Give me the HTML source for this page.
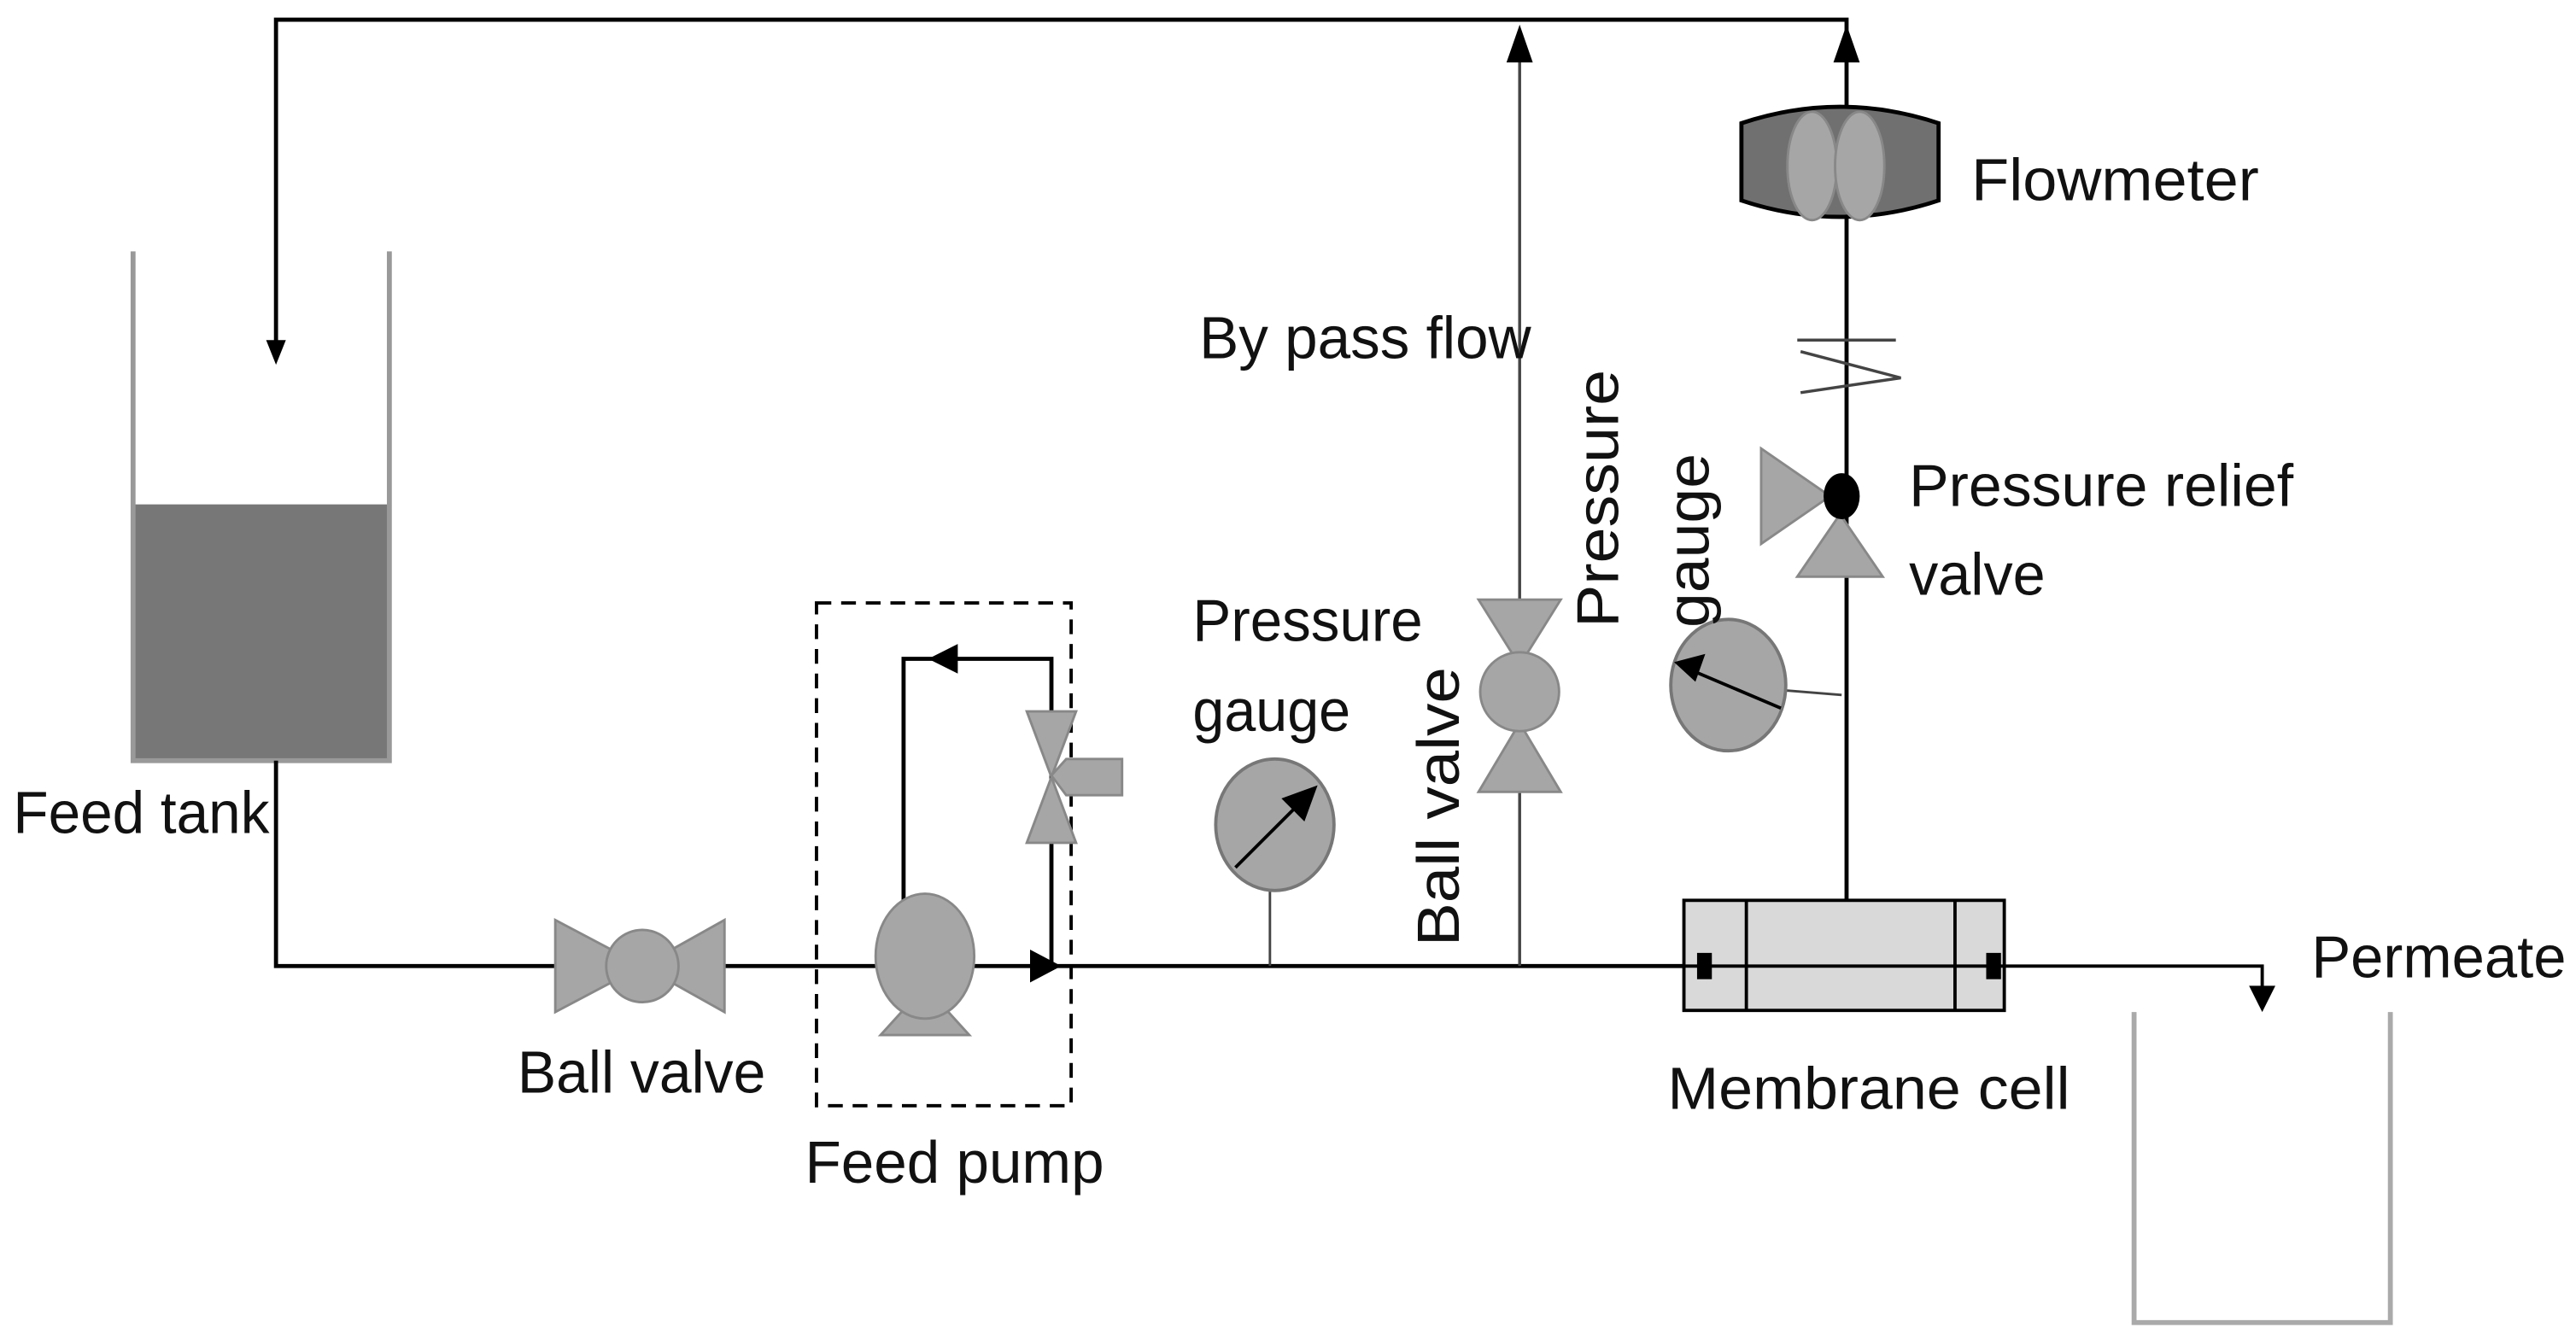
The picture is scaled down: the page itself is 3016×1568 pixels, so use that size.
<!DOCTYPE html>
<html><head><meta charset="utf-8"><style>html,body{margin:0;padding:0;background:#fff}svg{display:block}text{font-family:"Liberation Sans",sans-serif;font-size:36px;fill:#111}</style></head>
<body>
<svg width="3016" height="1568" viewBox="0 0 1568 815" preserveAspectRatio="none" xmlns="http://www.w3.org/2000/svg">
<rect width="1568" height="815" fill="#fff"/>
<!-- feed tank -->
<rect x="80" y="307" width="157" height="156" fill="#777"/>
<path d="M81,153 V463 H237 V153" fill="none" stroke="#999" stroke-width="3"/>
<!-- top return -->
<path d="M168,212 V12 H1124 V548" fill="none" stroke="#000" stroke-width="2.5"/>
<polygon points="162,207 174,207 168,222" fill="#000"/>
<!-- feed line -->
<path d="M168,463 V588 H1025" fill="none" stroke="#000" stroke-width="2.5"/>
<!-- bypass -->
<line x1="925" y1="588" x2="925" y2="20" stroke="#444" stroke-width="1.8"/>
<polygon points="917,38 933,38 925,15" fill="#000"/>
<polygon points="1116,38 1132,38 1124,15" fill="#000"/>
<!-- ball valve horizontal -->
<g fill="#a6a6a6" stroke="#888" stroke-width="1.5">
<polygon points="338,560 338,616 391,588"/><polygon points="441,560 441,616 391,588"/>
<circle cx="391" cy="588" r="22"/>
</g>
<!-- dashed box -->
<rect x="497" y="367" width="155" height="306" fill="none" stroke="#000" stroke-width="2" stroke-dasharray="9,6"/>
<!-- recycle loop -->
<path d="M550,548 V401 H640 V588" fill="none" stroke="#000" stroke-width="2.5"/>
<polygon points="565,401 583,392 583,410" fill="#000"/>
<polygon points="646,588 627,578 627,598" fill="#000"/>
<!-- pump -->
<g fill="#a6a6a6" stroke="#888" stroke-width="1.5">
<polygon points="536,630 590,630 570,608 556,608"/>
<ellipse cx="563" cy="582" rx="30" ry="38"/>
<polygon points="625,433 655,433 640,473"/><polygon points="625,513 655,513 640,473"/>
<polygon points="640,472 649,462 683,462 683,484 649,484"/>
</g>
<!-- gauge 1 -->
<line x1="773" y1="542" x2="773" y2="588" stroke="#444" stroke-width="1.5"/>
<ellipse cx="776" cy="502" rx="36" ry="40" fill="#a6a6a6" stroke="#777" stroke-width="2"/>
<line x1="752" y1="528" x2="790" y2="490" stroke="#000" stroke-width="2"/>
<polygon points="802,478 780,486 794,500" fill="#000"/>
<!-- bypass ball valve -->
<g fill="#a6a6a6" stroke="#888" stroke-width="1.5">
<polygon points="900,365 950,365 925,405"/><polygon points="900,482 950,482 925,440"/>
<circle cx="925" cy="421" r="24"/>
</g>
<!-- gauge 2 -->
<line x1="1084" y1="420" x2="1121" y2="423" stroke="#444" stroke-width="1.5"/>
<ellipse cx="1052" cy="417" rx="35" ry="40" fill="#a6a6a6" stroke="#777" stroke-width="2"/>
<line x1="1084" y1="431" x2="1032" y2="409" stroke="#000" stroke-width="2"/>
<polygon points="1019,403 1038,398 1032,415" fill="#000"/>
<!-- flowmeter -->
<path d="M1060,75 Q1120,55 1180,75 V122 Q1120,142 1060,122 Z" fill="#707070" stroke="#000" stroke-width="2.5"/>
<g fill="#a6a6a6" stroke="#888" stroke-width="1.5"><ellipse cx="1103" cy="101" rx="15" ry="33"/><ellipse cx="1132" cy="101" rx="15" ry="33"/></g>
<!-- check valve -->
<g stroke="#444" stroke-width="1.8" fill="none">
<line x1="1094" y1="207" x2="1154" y2="207"/>
<polyline points="1096,214 1157,230 1096,239"/>
</g>
<!-- relief valve -->
<g fill="#a6a6a6" stroke="#888" stroke-width="1.5">
<polygon points="1072,273 1072,331 1114,302"/>
<polygon points="1094,351 1146,351 1120,313"/>
</g>
<ellipse cx="1121" cy="302" rx="11" ry="14" fill="#000"/>
<!-- membrane cell -->
<rect x="1025" y="548" width="195" height="67" fill="#d9d9d9" stroke="#000" stroke-width="2"/>
<line x1="1063" y1="548" x2="1063" y2="615" stroke="#000" stroke-width="2"/>
<line x1="1190" y1="548" x2="1190" y2="615" stroke="#000" stroke-width="2"/>
<line x1="1025" y1="588" x2="1220" y2="588" stroke="#000" stroke-width="2"/>
<rect x="1033" y="580" width="9" height="16" fill="#000"/>
<rect x="1209" y="580" width="9" height="16" fill="#000"/>
<!-- permeate -->
<path d="M1220,588 H1377 V603" fill="none" stroke="#000" stroke-width="2"/>
<polygon points="1369,600 1385,600 1377,616" fill="#000"/>
<path d="M1299,616 V805 H1455 V616" fill="none" stroke="#aaa" stroke-width="3"/>
<!-- labels -->
<text x="8" y="507" textLength="156" lengthAdjust="spacingAndGlyphs">Feed tank</text>
<text x="315" y="665" textLength="151" lengthAdjust="spacingAndGlyphs">Ball valve</text>
<text x="490" y="720" textLength="182" lengthAdjust="spacingAndGlyphs">Feed pump</text>
<text x="726" y="390" textLength="140" lengthAdjust="spacingAndGlyphs">Pressure</text>
<text x="726" y="445" textLength="96" lengthAdjust="spacingAndGlyphs">gauge</text>
<text x="730" y="218" textLength="202" lengthAdjust="spacingAndGlyphs">By pass flow</text>
<text x="1200" y="122" textLength="175" lengthAdjust="spacingAndGlyphs">Flowmeter</text>
<text x="1162" y="308" textLength="234" lengthAdjust="spacingAndGlyphs">Pressure relief</text>
<text x="1162" y="362" textLength="83" lengthAdjust="spacingAndGlyphs">valve</text>
<text x="1407" y="595" textLength="155" lengthAdjust="spacingAndGlyphs">Permeate</text>
<text x="1015" y="675" textLength="245" lengthAdjust="spacingAndGlyphs">Membrane cell</text>
<text transform="translate(888,576) rotate(-90)" textLength="170" lengthAdjust="spacingAndGlyphs">Ball valve</text>
<text transform="translate(985,382) rotate(-90)" textLength="157" lengthAdjust="spacingAndGlyphs">Pressure</text>
<text transform="translate(1040,382) rotate(-90)" textLength="106" lengthAdjust="spacingAndGlyphs">gauge</text>
</svg>
</body></html>
